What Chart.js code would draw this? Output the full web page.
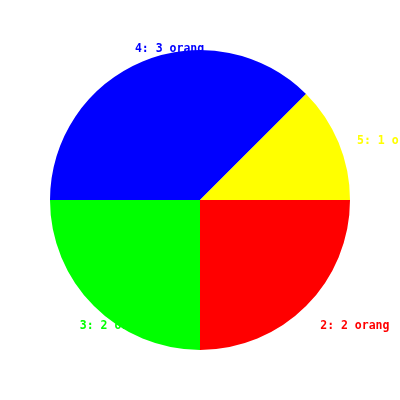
<!DOCTYPE html>
<html>
<head>
<meta charset="utf-8">
<script src="https://cdn.jsdelivr.net/npm/chart.js@4/dist/chart.umd.min.js"></script>
<style>
  html, body { margin: 0; padding: 0; background: #fff; }
</style>
</head>
<body>
<canvas id="pie-chart" width="400" height="400"></canvas>
<script>
var categories = ['2', '3', '4', '5'];
var counts = [2, 2, 3, 1];
var unit = 'orang';
var sliceColors = ['#ff0000', '#00ff00', '#0000ff', '#ffff00'];

// labels sit outside the pie and get painted before the slices, so the pie covers them
var outsideLabels = {
  id: 'outsideLabels',
  beforeDatasetsDraw: function(chart) {
    var ctx = chart.ctx;
    var meta = chart.getDatasetMeta(0);
    ctx.save();
    ctx.font = 'bold 11.5px "DejaVu Sans Mono", monospace';
    ctx.textAlign = 'left';
    ctx.textBaseline = 'alphabetic';
    meta.data.forEach(function(arc, i) {
      var mid = (arc.startAngle + arc.endAngle) / 2;
      var r = arc.outerRadius + 20;
      var x = arc.x + Math.cos(mid) * r;
      var y = arc.y + Math.sin(mid) * r + 9;
      ctx.fillStyle = sliceColors[i];
      ctx.fillText(categories[i] + ': ' + counts[i] + ' ' + unit, x, y);
    });
    ctx.restore();
  }
};

var pieCanvas = document.getElementById('pie-chart').getContext('2d');
var pieChart = new Chart(pieCanvas, {
  type: 'pie',
  data: {
    labels: categories,
    datasets: [{
      data: counts,
      backgroundColor: sliceColors,
      borderWidth: 0
    }]
  },
  options: {
    responsive: false,
    animation: false,
    rotation: 90,
    layout: { padding: 50 },
    plugins: {
      legend: { display: false },
      tooltip: { enabled: false }
    }
  },
  plugins: [outsideLabels]
});
</script>
</body>
</html>
